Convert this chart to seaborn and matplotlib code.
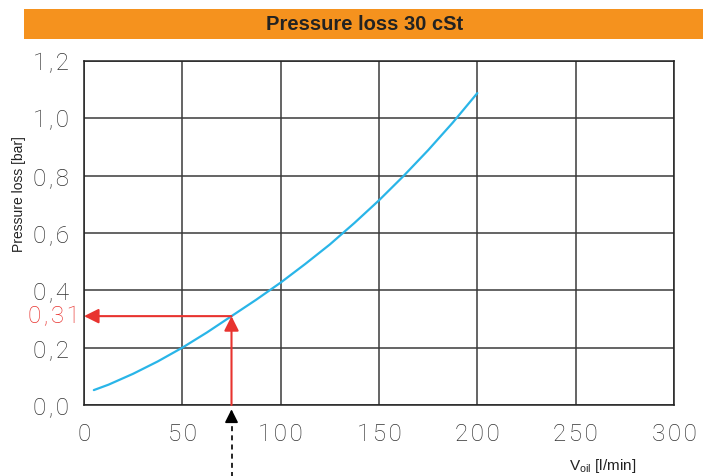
import matplotlib
matplotlib.use("Agg")
import matplotlib.pyplot as plt
from matplotlib.patches import Rectangle
from matplotlib.transforms import blended_transform_factory
import seaborn as sns
import pandas as pd

# Pressure loss curve at 30 cSt
flow_lpm = [5, 12.5, 25, 37.5, 50, 62.5, 75, 87.5, 100, 112.5, 125,
            137.5, 150, 162.5, 175, 187.5, 200]
loss_bar = [0.052, 0.071, 0.109, 0.152, 0.2, 0.253, 0.31, 0.367, 0.427, 0.492,
            0.56, 0.635, 0.714, 0.799, 0.889, 0.985, 1.088]

# Example reading on the curve
read_flow = 75
read_loss = 0.31
read_label = "0,31"

x_ticks = [0, 50, 100, 150, 200, 250, 300]
y_ticks = [0.0, 0.2, 0.4, 0.6, 0.8, 1.0, 1.2]
y_tick_labels = ["0,0", "0,2", "0,4", "0,6", "0,8", "1,0", "1,2"]

title = "Pressure loss 30 cSt"
y_title = "Pressure loss [bar]"
x_title = r"V$_{\mathregular{oil}}$ [l/min]"

sns.set_style("white")
plt.rcParams["font.family"] = ["Liberation Sans", "DejaVu Sans"]

ORANGE = "#F5921E"
BLUE = "#29B5E8"
RED = "#E8332F"
GRID = "#3a3a3a"
HAIR = "\u200a"
NUM_FONT = dict(family=["Roboto", "DejaVu Sans"], weight="light", size=17.5)


def spaced(s):
    # open up the digit spacing a little, like a technical lettering font
    return HAIR.join(s)


df = pd.DataFrame({"flow": flow_lpm, "loss": loss_bar})

fig = plt.figure(figsize=(7.03, 4.76), dpi=100)
ax = fig.add_axes([84 / 703, 1 - 405 / 476, 590 / 703, 344 / 476])

sns.lineplot(data=df, x="flow", y="loss", ax=ax, color=BLUE, linewidth=1.6)

ax.set_xlim(0, 300)
ax.set_ylim(0, 1.2)
ax.set_xticks(x_ticks)
ax.set_xticklabels([spaced(str(v)) for v in x_ticks], color="#333333", **NUM_FONT)
ax.set_yticks(y_ticks)
ax.set_yticklabels([spaced(t) for t in y_tick_labels], color="#333333", **NUM_FONT)
ax.tick_params(axis="both", direction="out", length=5, width=1, color="#222222")
ax.tick_params(axis="y", pad=6)
ax.tick_params(axis="x", pad=8)
ax.set_xlabel("")
ax.set_ylabel("")
ax.grid(True, color=GRID, linewidth=1.1)
ax.set_axisbelow(True)
for s in ax.spines.values():
    s.set_visible(True)
    s.set_color("#222222")
    s.set_linewidth(1.1)

# Reading arrows: up from the flow axis to the curve, then across to the loss axis
ax.annotate("", xy=(read_flow, read_loss), xytext=(read_flow, 0),
            arrowprops=dict(arrowstyle="-|>", color=RED, lw=1.5,
                            mutation_scale=22, shrinkA=0, shrinkB=0))
ax.annotate("", xy=(0, read_loss), xytext=(read_flow, read_loss),
            arrowprops=dict(arrowstyle="-|>", color=RED, lw=1.5,
                            mutation_scale=22, shrinkA=0, shrinkB=0),
            annotation_clip=False)
trans = blended_transform_factory(fig.transFigure, ax.transData)
ax.text(80 / 703, read_loss, spaced(read_label), transform=trans, ha="right",
        va="center", color=RED, **NUM_FONT)

# Dashed pointer below the flow axis
ax.plot([read_flow, read_flow], [-0.25, -0.05], color="black", lw=1.2,
        linestyle=(0, (3, 2.5)), clip_on=False)
ax.annotate("", xy=(read_flow, -0.015), xytext=(read_flow, -0.06),
            arrowprops=dict(arrowstyle="-|>", color="black", lw=1.2,
                            mutation_scale=20, shrinkA=0, shrinkB=0),
            annotation_clip=False)

# Title band
fig.patches.append(Rectangle((24 / 703, 1 - 39 / 476), 1 - 24 / 703, 30 / 476,
                             transform=fig.transFigure, facecolor=ORANGE,
                             edgecolor="none", zorder=0))
fig.text(365 / 703, 1 - 24 / 476, title, ha="center", va="center",
         fontsize=14.5, fontweight="bold", color="#222222")

fig.text(19 / 703, 1 - 194 / 476, y_title, rotation=90, ha="center",
         va="center", fontsize=10, color="#222222")
fig.text(603 / 703, 1 - 466 / 476, x_title, ha="center", va="center",
         fontsize=11, color="#222222")

fig.savefig("out.png", dpi=100)
